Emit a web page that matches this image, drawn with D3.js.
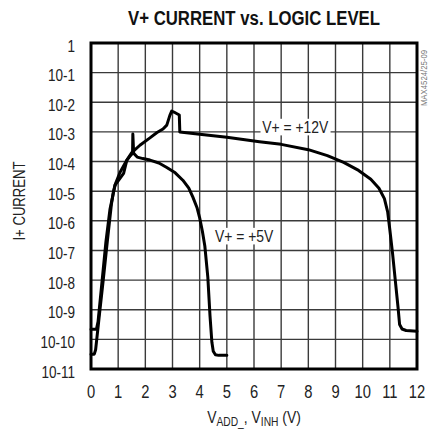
<!DOCTYPE html>
<html>
<head>
<meta charset="utf-8">
<script src="https://cdn.jsdelivr.net/npm/d3@7"></script>
<style>
  body { margin: 0; background: #fff; }
  text { font-family: "Liberation Sans", Arial, sans-serif; }
</style>
</head>
<body>
<div id="chart"></div>
<script>
// tick values and labels
const xTickValues = [0, 1, 2, 3, 4, 5, 6, 7, 8, 9, 10, 11, 12];
const yTickExp = [0, -1, -2, -3, -4, -5, -6, -7, -8, -9, -10, -11];
const yTickLabels = ["1", "10-1", "10-2", "10-3", "10-4", "10-5", "10-6", "10-7", "10-8", "10-9", "10-10", "10-11"];

// V+ = +5V curve (log10 of current)
const v5Volts = [0, 0.12, 0.17, 0.3, 0.45, 0.6, 0.75, 0.82, 0.9, 1.07, 1.3, 1.45, 1.53, 1.54, 1.57, 1.7, 1.91, 2.17, 2.5, 2.79, 3.1, 3.38, 3.6, 3.75, 3.9, 4.0, 4.1, 4.19, 4.3, 4.38, 4.45, 4.5, 4.58, 4.7, 5.0];
const v5LogI = [-10.5, -10.5, -10.35, -9.25, -8.0, -6.7, -5.45, -5.05, -4.75, -4.36, -3.98, -3.8, -3.72, -3.07, -3.72, -3.85, -3.9, -3.95, -4.05, -4.2, -4.38, -4.63, -4.9, -5.2, -5.55, -5.9, -6.35, -6.85, -7.9, -9.2, -10.1, -10.4, -10.52, -10.54, -10.54];

// V+ = +12V curve (log10 of current)
const v12Volts = [0, 0.2, 0.26, 0.4, 0.55, 0.7, 0.77, 0.88, 1.2, 1.32, 1.5, 1.8, 2.17, 2.43, 2.65, 2.79, 2.9, 2.97, 3.05, 3.25, 3.27, 4.0, 5.0, 6.2, 7.0, 8.0, 8.7, 9.3, 9.85, 10.3, 10.6, 10.8, 10.92, 11.0, 11.1, 11.2, 11.3, 11.36, 11.45, 11.6, 12];
const v12LogI = [-9.66, -9.66, -9.4, -8.1, -6.7, -5.6, -5.3, -4.8, -4.4, -3.95, -3.7, -3.45, -3.2, -3.02, -2.9, -2.77, -2.45, -2.3, -2.33, -2.43, -3.0, -3.08, -3.18, -3.33, -3.42, -3.6, -3.8, -4.03, -4.3, -4.6, -4.9, -5.25, -5.7, -6.3, -7.1, -8.0, -8.9, -9.5, -9.65, -9.7, -9.73];

const margin = {top: 43, right: 11, bottom: 62, left: 91},
  width = 428 - margin.left - margin.right,
  height = 431 - margin.top - margin.bottom;

const narrow = 0.82; // no narrow font installed, squeeze text horizontally

const svg = d3.select("#chart")
  .append("svg")
  .attr("width", 428)
  .attr("height", 431);

const g = svg.append("g")
  .attr("transform", `translate(${margin.left}, ${margin.top})`);

const xScale = d3.scaleLinear().domain([0, 12]).range([0, width]);
const yScale = d3.scaleLog().domain([1e-11, 1]).range([height, 0]);

// squeezed text helper
function nText(parent, x, y, size, anchor, txt, rot) {
  const grp = parent.append("g")
    .attr("transform", `translate(${x}, ${y})` + (rot ? ` rotate(${rot})` : "") + ` scale(${narrow}, 1)`);
  const t = grp.append("text")
    .attr("text-anchor", anchor)
    .style("font-size", size + "px")
    .style("fill", "#222");
  if (txt !== null) t.text(txt);
  return t;
}

// grid
g.append("g")
  .selectAll("line")
  .data(xTickValues.slice(1, -1))
  .join("line")
  .attr("x1", d => xScale(d)).attr("x2", d => xScale(d))
  .attr("y1", 0).attr("y2", height)
  .attr("stroke", "#3a3a3a")
  .attr("stroke-width", 1.4);

g.append("g")
  .selectAll("line")
  .data(yTickExp.slice(1, -1))
  .join("line")
  .attr("x1", 0).attr("x2", width)
  .attr("y1", d => yScale(Math.pow(10, d))).attr("y2", d => yScale(Math.pow(10, d)))
  .attr("stroke", "#3a3a3a")
  .attr("stroke-width", 1.4);

// curve labels with white background
function curveLabel(x, y, txt) {
  const t = nText(g, xScale(x), yScale(Math.pow(10, y)), 17, "start", txt);
  const bb = t.node().getBBox();
  d3.select(t.node().parentNode).insert("rect", "text")
    .attr("x", bb.x - 2).attr("y", bb.y + 1)
    .attr("width", bb.width + 4).attr("height", bb.height - 2)
    .attr("fill", "#fff");
}

curveLabel(6.3, -3.04, "V+ = +12V");
curveLabel(4.56, -6.72, "V+ = +5V");

// curves
const line = d3.line()
  .x(d => xScale(d[0]))
  .y(d => yScale(Math.pow(10, d[1])));

const series = [d3.zip(v5Volts, v5LogI), d3.zip(v12Volts, v12LogI)];

g.selectAll(".curve")
  .data(series)
  .join("path")
  .attr("class", "curve")
  .attr("d", d => line(d))
  .attr("fill", "none")
  .attr("stroke", "#000")
  .attr("stroke-width", 3)
  .attr("stroke-linejoin", "round")
  .attr("stroke-linecap", "round");

// frame
g.append("rect")
  .attr("x", 0).attr("y", 0)
  .attr("width", width).attr("height", height)
  .attr("fill", "none")
  .attr("stroke", "#000")
  .attr("stroke-width", 3);

// tick labels
xTickValues.forEach(d => {
  nText(g, xScale(d), height + 29, 18, "middle", d);
});

yTickExp.forEach((d, i) => {
  nText(g, -16, yScale(Math.pow(10, d)) + 8.5, 16.5, "end", yTickLabels[i]);
});

// title
svg.append("text")
  .attr("x", 128)
  .attr("y", 25)
  .attr("textLength", 252)
  .attr("lengthAdjust", "spacingAndGlyphs")
  .style("font-size", "20px")
  .style("font-weight", "bold")
  .style("fill", "#111")
  .text("V+ CURRENT vs. LOGIC LEVEL");

// y axis title
nText(svg, 25, 201, 16, "middle", "I+ CURRENT", -90);

// x axis title with subscripts
const xt = nText(svg, 254, 423, 17, "middle", null);
xt.append("tspan").text("V");
xt.append("tspan").attr("dy", 3).style("font-size", "12.5px").text("ADD_");
xt.append("tspan").attr("dy", -3).text(", V");
xt.append("tspan").attr("dy", 3).style("font-size", "12.5px").text("INH");
xt.append("tspan").attr("dy", -3).text(" (V)");

// figure id on right
nText(svg, 427, 78, 9.5, "middle", "MAX4524/25-09", -90).style("fill", "#777");
</script>
</body>
</html>
